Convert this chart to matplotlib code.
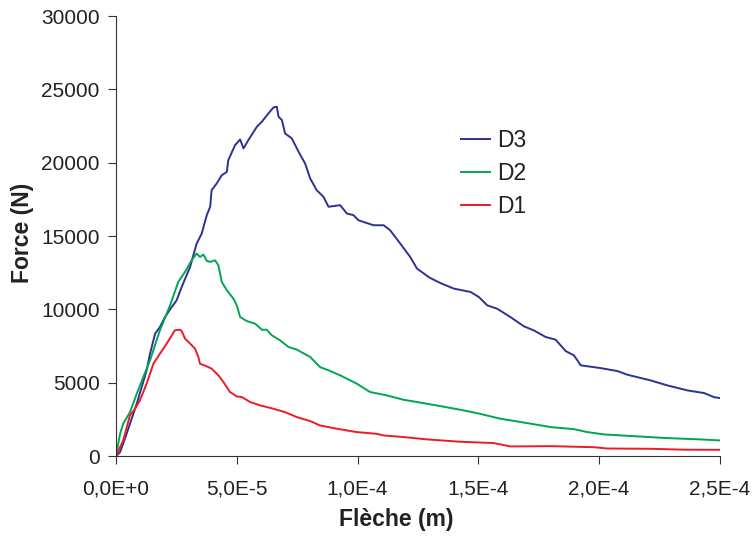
import matplotlib
matplotlib.use('Agg')
import matplotlib.pyplot as plt
from matplotlib.ticker import FixedLocator
import numpy as np

# deflection in units of 1E-5 m, force in N
d3_x = [0, 0.17, 0.44, 0.86, 1.27, 1.41, 1.62, 1.82, 2.03, 2.31, 2.51, 2.72, 3.07, 3.34,
        3.55, 3.76, 3.90, 3.96, 4.17, 4.38, 4.59, 4.65, 4.93, 5.14, 5.28, 5.48, 5.83, 6.04,
        6.31, 6.52, 6.66, 6.73, 6.87, 7.00, 7.28, 7.56, 7.83, 8.04, 8.31, 8.59, 8.80, 9.28,
        9.56, 9.83, 10.04, 10.66, 11.08, 11.35, 11.77, 12.18, 12.46, 12.98, 13.43, 13.99,
        14.68, 15.02, 15.37, 15.78, 16.33, 16.89, 17.30, 17.79, 18.20, 18.62, 18.96, 19.24,
        20.07, 20.76, 21.17, 22.14, 22.83, 23.66, 24.35, 24.76, 25.0]
d3_y = [0, 270, 1520, 3570, 5850, 6980, 8350, 8800, 9490, 10170, 10620, 11530, 12900, 14490,
        15170, 16430, 17000, 18130, 18590, 19150, 19380, 20180, 21200, 21590, 20980, 21540,
        22450, 22800, 23360, 23770, 23820, 23140, 22910, 22000, 21660, 20750, 19950, 18930,
        18130, 17680, 17000, 17110, 16540, 16430, 16080, 15740, 15740, 15400, 14490, 13580,
        12790, 12170, 11800, 11420, 11190, 10850, 10280, 10050, 9480, 8850, 8570, 8120, 7940,
        7160, 6870, 6190, 6000, 5800, 5550, 5160, 4820, 4480, 4300, 4020, 3960]

d2_x = [0, 0.17, 0.30, 0.58, 0.86, 1.13, 1.41, 1.82, 2.24, 2.58, 2.86, 3.13, 3.34, 3.48,
        3.62, 3.76, 3.90, 4.10, 4.24, 4.38, 4.59, 4.86, 5.00, 5.14, 5.41, 5.76, 6.04, 6.24,
        6.45, 6.80, 7.14, 7.49, 8.04, 8.45, 8.80, 9.28, 9.97, 10.52, 11.22, 11.91, 12.46,
        13.43, 14.26, 14.95, 15.92, 17.03, 18.0, 18.96, 19.51, 20.20, 21.45, 22.83, 24.21, 25.0]
d2_y = [0, 1520, 2210, 3000, 4250, 5390, 6530, 8580, 10280, 11880, 12560, 13350, 13810, 13580,
        13740, 13310, 13240, 13350, 13010, 11880, 11310, 10740, 10280, 9490, 9210, 9030, 8620,
        8620, 8240, 7890, 7440, 7260, 6760, 6070, 5850, 5510, 4940, 4370, 4140, 3840, 3690,
        3410, 3160, 2930, 2550, 2250, 1980, 1840, 1640, 1480, 1360, 1230, 1140, 1070]

d1_x = [0, 0.30, 0.58, 0.79, 0.99, 1.27, 1.55, 1.82, 2.10, 2.44, 2.65, 2.72, 2.86, 3.07,
        3.27, 3.41, 3.48, 3.76, 3.96, 4.24, 4.45, 4.72, 5.00, 5.21, 5.55, 5.97, 6.52, 7.00,
        7.49, 8.04, 8.45, 9.14, 9.97, 10.80, 11.08, 11.91, 12.88, 14.26, 15.64, 16.33, 18.0,
        19.79, 20.34, 22.14, 23.52, 25.0]
d1_y = [0, 1070, 2780, 3230, 3800, 4940, 6300, 6980, 7670, 8580, 8620, 8530, 8010, 7670,
        7330, 6760, 6300, 6120, 5960, 5510, 5050, 4370, 4070, 4030, 3690, 3460, 3230, 3000,
        2660, 2390, 2090, 1870, 1640, 1520, 1410, 1300, 1140, 980, 890, 660, 680, 610, 520,
        500, 440, 430]

x_ticks = [0, 5e-5, 1e-4, 1.5e-4, 2e-4, 2.5e-4]
x_tick_labels = ['0,0E+0', '5,0E-5', '1,0E-4', '1,5E-4', '2,0E-4', '2,5E-4']
y_ticks = [0, 5000, 10000, 15000, 20000, 25000, 30000]

plt.rcParams['font.family'] = ['Liberation Sans', 'DejaVu Sans']

fig = plt.figure(figsize=(7.53, 5.36), dpi=100)
ax = fig.add_axes([0.154, 0.149, 0.802, 0.821])

ax.plot(np.array(d3_x) * 1e-5, d3_y, color='#2E3192', lw=1.4, label='D3')
ax.plot(np.array(d2_x) * 1e-5, d2_y, color='#00A651', lw=1.4, label='D2')
ax.plot(np.array(d1_x) * 1e-5, d1_y, color='#ED1C24', lw=1.4, label='D1')

ax.set_xlim(0, 2.5e-4)
ax.set_ylim(0, 30000)
ax.xaxis.set_major_locator(FixedLocator(x_ticks))
ax.set_xticklabels(x_tick_labels)
ax.set_yticks(y_ticks)
ax.tick_params(labelsize=15, length=5.8, width=0.8, color='#333333', labelcolor='#222222')
ax.tick_params(axis='x', pad=11)
ax.tick_params(axis='y', pad=6)
for s in ['top', 'right']:
    ax.spines[s].set_visible(False)
for s in ['left', 'bottom']:
    ax.spines[s].set_color('#333333')
    ax.spines[s].set_linewidth(0.8)

ax.set_xlabel('Flèche (m)', fontsize=16.5, fontweight='bold', color='#222222')
ax.xaxis.set_label_coords(0.464, -0.118)
ax.set_ylabel('Force (N)', fontsize=16.5, fontweight='bold', color='#222222')
ax.yaxis.set_label_coords(-0.135, 0.507)

leg = ax.legend(loc='upper left', bbox_to_anchor=(0.571, 0.744), frameon=False, fontsize=16.5,
                handlelength=1.27, handletextpad=0.3, labelspacing=0.44,
                borderpad=0, borderaxespad=0)
for t in leg.get_texts():
    t.set_color('#222222')

fig.savefig('out.png', dpi=100)
